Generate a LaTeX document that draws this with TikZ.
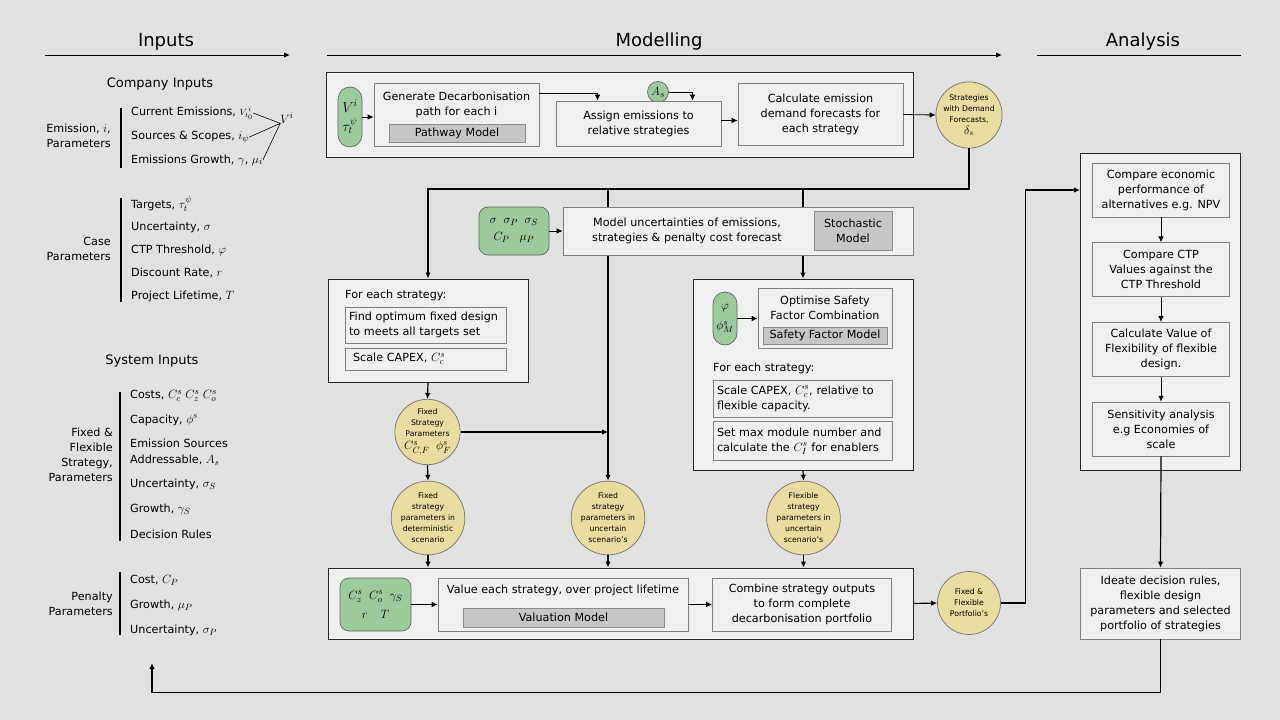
\documentclass[tikz,border=0pt]{standalone}
\usepackage{fontspec}
\setmainfont{DejaVu Sans}
\DeclareMathSizes{11.2}{12.4}{9}{7}
\DeclareMathSizes{7.7}{9}{6.5}{5}
\usetikzlibrary{positioning,arrows.meta}
\definecolor{bgcol}{HTML}{E1E1E1}
\definecolor{boxcol}{HTML}{F0F0F0}
\definecolor{modelcol}{HTML}{C6C6C6}
\definecolor{greencol}{HTML}{9BCB9D}
\definecolor{paramcol}{HTML}{E8DCA0}

\tikzset{
  frame/.style={draw=black!85,fill=boxcol,line width=0.9pt,inner sep=0pt},
  stepbox/.style={draw=black!50,fill=boxcol,line width=0.7pt,align=center,inner sep=0pt},
  modelbox/.style={draw=black!45,fill=modelcol,line width=0.7pt,align=center,inner sep=0pt},
  greenbox/.style={draw=black!60,fill=greencol,line width=0.7pt,rounded corners=9pt,align=center,inner sep=0pt,font=\fontsize{13}{15}\selectfont},
  param/.style={circle,draw=black!55,fill=paramcol,line width=0.7pt,minimum size=64pt,inner sep=0pt,align=center,font=\fontsize{7.7}{11}\selectfont},
  wh/.style 2 args={minimum width=#1,minimum height=#2},
  conn/.style={->,line width=1.2pt},
  smallarrow/.style={->,line width=0.8pt},
  heading/.style={font=\fontsize{18}{21}\selectfont},
  subhead/.style={font=\fontsize{13}{15}\selectfont},
  item/.style={anchor=west,align=left,inner sep=0pt},
  grouplabel/.style={anchor=east,align=right,inner sep=0pt,font=\fontsize{11.2}{15}\selectfont},
  bar/.style={line width=1.2pt}
}

\begin{document}
\begin{tikzpicture}[x=1pt,y=-1pt,>={Latex[length=6pt,width=5.5pt]},font=\fontsize{11.2}{15}\selectfont]
\useasboundingbox[fill=bgcol] (0,0) rectangle (1280,720);

%the headings
\node[heading] (inputs) at (166,42) {Inputs};
\node[heading] (modelling) at (659,42) {Modelling};
\node[heading] (analysis) at (1143,42) {Analysis};
\draw[->,line width=0.9pt] (45,55) -- (290,55);
\draw[->,line width=0.9pt] (327,55) -- (1002,55);
\draw[line width=0.9pt] (1037,55) -- (1241,55);

%company inputs
\node[subhead] (company) at (160,84) {Company Inputs};
\draw[bar] (121,108) -- (121,168);
\node[grouplabel] (emlabel) at (111,136) {Emission, $i$,\\Parameters};
\node[item] (curem) at (131,113) {Current Emissions, $\scriptstyle V^{\,i}_{t_0}$};
\node[item] (srcsc) at (131,137) {Sources \& Scopes, $i_\psi$};
\node[item] (emgr) at (131,160) {Emissions Growth, $\gamma$, $\mu_i$};
\node[inner sep=0pt,font=\fontsize{13}{15}\selectfont] (vi) at (287,118) {$V^i$};
\draw[line width=0.6pt] (curem.east) -- (vi.south west);
\draw[line width=0.6pt] (srcsc.east) -- (vi.south west);
\draw[line width=0.6pt] (emgr.east) -- (vi.south west);

\draw[bar] (121,198) -- (121,302);
\node[grouplabel] (caselabel) at (111,249) {Case\\Parameters};
\node[item] (targets) at (131,204) {Targets, $\tau_t^\psi$};
\node[item] (uncert) at (131,227) {Uncertainty, $\sigma$};
\node[item] (ctp) at (131,250) {CTP Threshold, $\varphi$};
\node[item] (discount) at (131,273) {Discount Rate, $r$};
\node[item] (lifetime) at (131,296) {Project Lifetime, $T$};

%system inputs
\node[subhead] (system) at (152,361) {System Inputs};
\draw[bar] (120,392) -- (120,541);
\node[grouplabel] (stratlabel) at (113,455) {Fixed \&\\Flexible\\Strategy,\\Parameters};
\node[item] (costs) at (130,396) {Costs, $C_c^s\;C_z^s\;C_o^s$};
\node[item] (capacity) at (130,420) {Capacity, $\phi^s$};
\node[item,font=\fontsize{11.2}{16}\selectfont] (sources) at (130,452) {Emission Sources\\Addressable, $A_s$};
\node[item] (suncert) at (130,484) {Uncertainty, $\sigma_S$};
\node[item] (sgrowth) at (130,509) {Growth, $\gamma_S$};
\node[item] (rules) at (130,534) {Decision Rules};

\draw[bar] (120,572) -- (120,635);
\node[grouplabel] (penlabel) at (113,604) {Penalty\\Parameters};
\node[item] (pcost) at (130,580) {Cost, $C_P$};
\node[item] (pgrowth) at (130,605) {Growth, $\mu_P$};
\node[item] (puncert) at (130,630) {Uncertainty, $\sigma_P$};

%the pathway row
\node[frame,wh={587pt}{85pt}] (topframe) at (619.5,114.5) {};
\node[greenbox,rounded corners=12pt,wh={24pt}{60pt},font=\fontsize{14}{15}\selectfont] (vpill) at (350,117) {$V^i$\\[4pt]$\tau_t^\psi$};
\node[stepbox,wh={165pt}{63pt}] (gen) at (456.5,114.5) {};
\node[align=center,inner sep=0pt] (gentxt) at (456.5,104.5) {Generate Decarbonisation\\path for each i};
\node[modelbox,wh={136pt}{18pt}] (pathway) at (457,133) {Pathway Model};
\node[circle,draw=black!60,fill=greencol,line width=0.7pt,minimum size=21pt,inner sep=0pt] (as) at (658,92) {$A_s$};
\node[stepbox,wh={165pt}{45pt}] (assign) at (638.5,123.5) {Assign emissions to\\relative strategies};
\node[stepbox,wh={165pt}{62pt}] (calc) at (820.5,114.5) {Calculate emission\\demand forecasts for\\each strategy};
\node[param] (strat) at (969,115) {Strategies\\with Demand\\Forecasts,\\[1pt]{\fontsize{12}{12}\selectfont$\delta_s$}};

\draw[smallarrow] (vpill.east) -- (vpill.east -| gen.west);
\draw[smallarrow] ([yshift=-11pt]gen.north east) -| ([xshift=-41pt]assign.north);
\draw[smallarrow] (as.east) -| ([xshift=54pt]assign.north);
\draw[smallarrow] ([yshift=3pt]assign.east) -- ([yshift=3pt]assign.east -| calc.west);
\draw[smallarrow] (calc.east) -- (strat.west);

%the strategy parameter circles
\node[param,minimum size=62pt] (fixpar) at (427.5,432) {Fixed\\Strategy\\Parameters\\[2pt]{\fontsize{11.2}{12}\selectfont$C^s_{C,F}\;\;\phi^s_F$}};
\node[param,minimum size=70pt] (detcirc) at (428,518) {Fixed\\strategy\\parameters in\\deterministic\\scenario};
\node[param,minimum size=70pt] (midcirc) at (608,518) {Fixed\\strategy\\parameters in\\uncertain\\scenario's};
\node[param,minimum size=70pt] (flexcirc) at (803.5,518) {Flexible\\strategy\\parameters in\\uncertain\\scenario's};

%fixed design
\node[frame,wh={200pt}{103pt}] (fixedbox) at (428,330.5) {};
\node[anchor=west,inner sep=0pt] (fixedhead) at (345,295) {For each strategy:};
\node[stepbox,wh={161pt}{36pt},text width=153pt,align=left] (findopt) at (425.5,325) {Find optimum fixed design\\to meets all targets set};
\node[stepbox,wh={161pt}{22pt},text width=145pt,align=left] (scalefix) at (425.5,359) {Scale CAPEX, $C_c^s$};

%flexible design
\node[frame,wh={220pt}{191pt}] (flexbox) at (803,374.5) {};
\node[greenbox,rounded corners=12pt,wh={24pt}{53pt}] (phipill) at (725,318.5) {$\varphi$\\[5pt]$\phi_M^s$};
\node[stepbox,wh={134pt}{60pt}] (optim) at (825,318) {};
\node[align=center,inner sep=0pt] (optimtxt) at (825,307.5) {Optimise Safety\\Factor Combination};
\node[modelbox,wh={124pt}{17pt}] (sfmodel) at (825,335.5) {Safety Factor Model};
\node[anchor=west,inner sep=0pt] (flexhead) at (713,368) {For each strategy:};
\node[stepbox,wh={179pt}{37pt},text width=171pt,align=left] (scaleflex) at (802.5,398.5) {Scale CAPEX, $C_c^s$, relative to\\flexible capacity.};
\node[stepbox,wh={179pt}{39pt},text width=171pt,align=left] (setmax) at (802.5,441) {Set max module number and\\calculate the $C_I^s$ for enablers};
\draw[smallarrow] (phipill.east) -- (phipill.east -| optim.west);

%lines from the demand forecasts
\coordinate (bus) at (0,189);
\draw[conn] (strat.south) |- (fixedbox.north |- bus) -- (fixedbox.north);
\draw[conn] (midcirc.north |- bus) -- (midcirc.north);
\draw[conn] (flexbox.north |- bus) -- (flexbox.north);

%stochastic model
\node[stepbox,wh={350pt}{48pt}] (model) at (738,231) {};
\node[align=center,inner sep=0pt] (modeltxt) at (687,231) {Model uncertainties of emissions,\\strategies \& penalty cost forecast};
\node[modelbox,wh={78pt}{39pt}] (stoch) at (853,230.5) {Stochastic\\Model};
\node[greenbox,wh={70pt}{48pt}] (sigbox) at (514,231) {$\sigma\;\;\sigma_P\;\;\sigma_S$\\[2pt]$C_P\;\;\;\mu_P$};
\draw[smallarrow] (sigbox.east) -- (model.west);

\draw[conn] (fixedbox.south) -- (fixpar.north);
\draw[conn] (fixpar.south) -- (detcirc.north);
\draw[conn] (fixpar.east) -- (fixpar.east -| midcirc.north);
\draw[conn] (flexbox.south) -- (flexcirc.north);

%valuation row
\node[frame,wh={585pt}{71pt}] (valframe) at (620.5,603.5) {};
\node[greenbox,wh={71pt}{53pt}] (valgreen) at (375.5,604.5) {$C_z^s\;\;C_o^s\;\;\gamma_S$\\[4pt]$r\quad T$};
\node[stepbox,wh={250pt}{53pt}] (value) at (563,604.5) {};
\node[inner sep=0pt] (valtxt) at (563,590) {Value each strategy, over project lifetime};
\node[modelbox,wh={201pt}{19pt}] (valmodel) at (563.5,617.5) {Valuation Model};
\node[stepbox,wh={179pt}{53pt}] (combine) at (802,604.5) {Combine strategy outputs\\to form complete\\decarbonisation portfolio};
\node[param,minimum size=63pt] (portfolio) at (969,603) {Fixed \&\\Flexible\\Portfolio's};

\draw[smallarrow] (valgreen.east) -- (value.west);
\draw[smallarrow] (value.east) -- (combine.west);
\draw[conn] (detcirc.south) -- (detcirc.south |- valframe.north);
\draw[conn] (midcirc.south) -- (midcirc.south |- valframe.north);
\draw[conn] (flexcirc.south) -- (flexcirc.south |- valframe.north);
\draw[conn] (valframe.east) -- (portfolio.west);

%analysis
\node[frame,wh={160pt}{317pt}] (anaframe) at (1160.5,311.5) {};
\node[stepbox,wh={137pt}{54pt}] (cmp1) at (1161,190) {Compare economic\\performance of\\alternatives e.g. NPV};
\node[stepbox,wh={137pt}{54pt},below=25pt of cmp1] (cmp2) {Compare CTP\\Values against the\\CTP Threshold};
\node[stepbox,wh={137pt}{54pt},below=25pt of cmp2] (cmp3) {Calculate Value of\\Flexibility of flexible\\design.};
\node[stepbox,wh={137pt}{54pt},below=25pt of cmp3] (cmp4) {Sensitivity analysis\\e.g Economies of\\scale};
\node[stepbox,wh={160pt}{71pt}] (ideate) at (1160.5,603.5) {Ideate decision rules,\\flexible design\\parameters and selected\\portfolio of strategies};

\draw[smallarrow] (cmp1.south) -- (cmp2.north);
\draw[smallarrow] (cmp2.south) -- (cmp3.north);
\draw[smallarrow] (cmp3.south) -- (cmp4.north);
\draw[conn] (cmp4.south) -- (ideate.north);
\draw[conn] (portfolio.east) -- ++(25,0) |- (cmp1.west -| anaframe.west);

%back to the inputs
\coordinate (back) at (152,663);
\draw[conn] (ideate.south) -- ++(0,53) -| (back);

\end{tikzpicture}
\end{document}
